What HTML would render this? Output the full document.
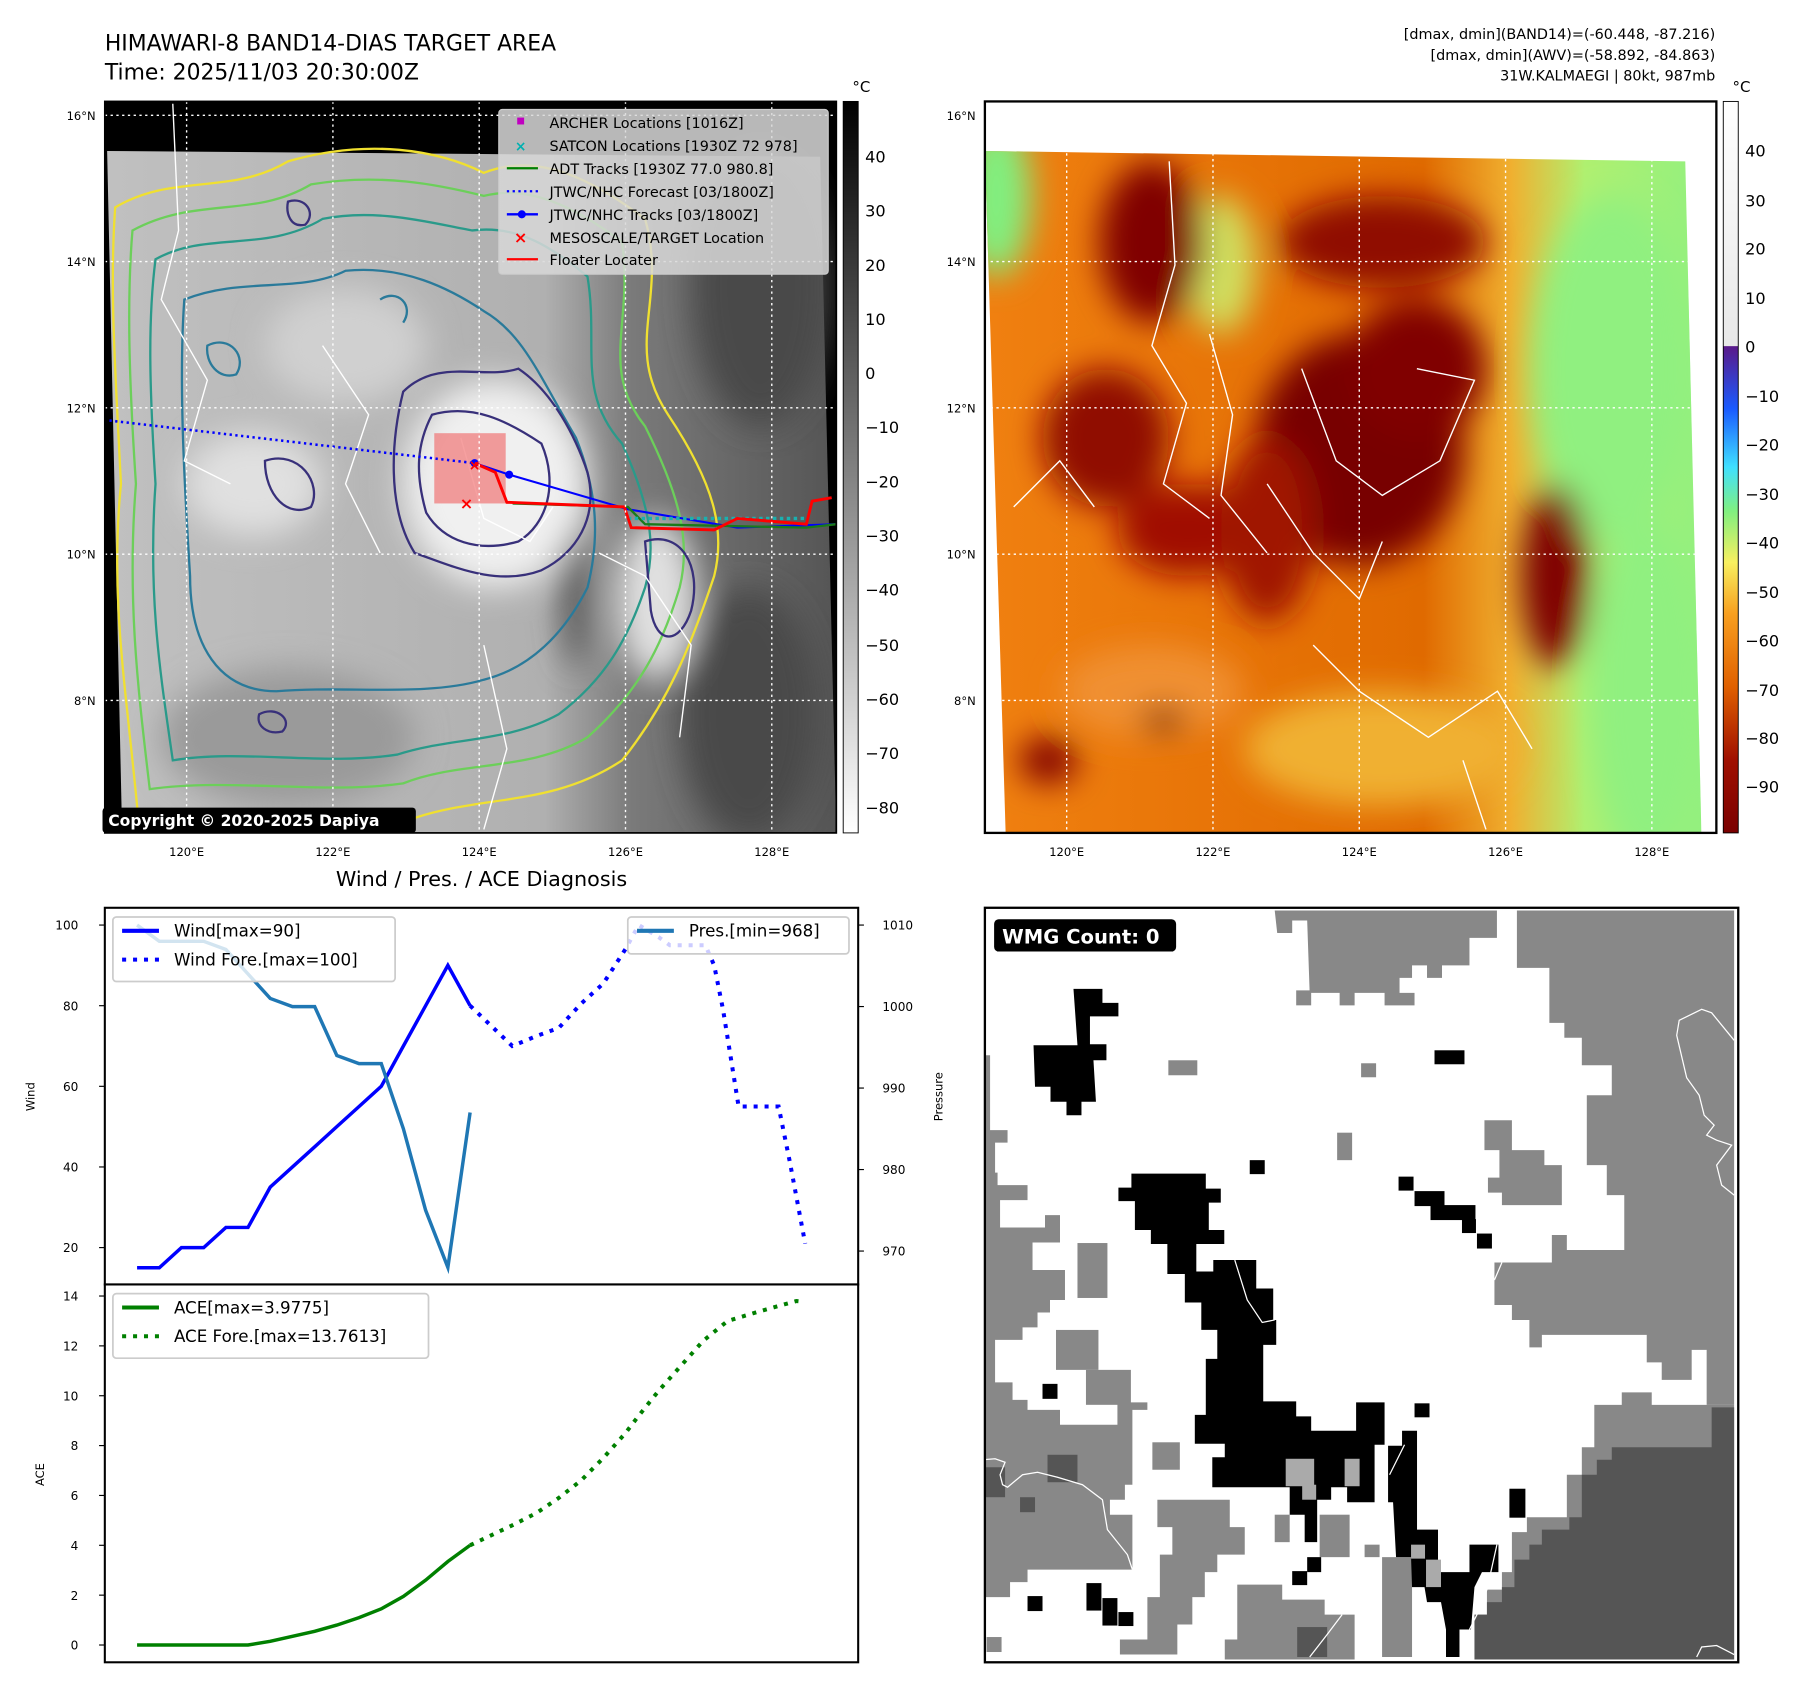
<!DOCTYPE html>
<html><head><meta charset="utf-8"><style>
html,body{margin:0;padding:0;background:#fff}
svg{display:block;font-family:"DejaVu Sans","Liberation Sans",sans-serif}
</style></head><body>
<svg id="root" width="1797" height="1690" viewBox="0 0 1560 1467" xmlns="http://www.w3.org/2000/svg">
<defs>
<filter id="blur8" x="-50%" y="-50%" width="200%" height="200%"><feGaussianBlur stdDeviation="8"/></filter>
<filter id="blur15" x="-50%" y="-50%" width="200%" height="200%"><feGaussianBlur stdDeviation="14"/></filter>
<filter id="blur25" x="-50%" y="-50%" width="200%" height="200%"><feGaussianBlur stdDeviation="22"/></filter>
<linearGradient id="grayCb" x1="0" y1="0" x2="0" y2="1"><stop offset="0" stop-color="#000"/><stop offset="1" stop-color="#fff"/></linearGradient>
<linearGradient id="colCb" x1="0" y1="0" x2="0" y2="1">
<stop offset="0" stop-color="#fff"/><stop offset="0.334" stop-color="#e8e8e8"/>
<stop offset="0.335" stop-color="#5a1a8a"/><stop offset="0.42" stop-color="#1a5aff"/><stop offset="0.5" stop-color="#40e0ff"/>
<stop offset="0.56" stop-color="#80f080"/><stop offset="0.63" stop-color="#f8f060"/><stop offset="0.7" stop-color="#f8a020"/>
<stop offset="0.8" stop-color="#e06000"/><stop offset="0.9" stop-color="#a01000"/><stop offset="1" stop-color="#7a0000"/></linearGradient>
<linearGradient id="leftImg" x1="0" y1="0" x2="1" y2="0"><stop offset="0" stop-color="#c0c0c0"/><stop offset="0.6" stop-color="#b0b0b0"/><stop offset="0.72" stop-color="#7a7a7a"/><stop offset="1" stop-color="#555"/></linearGradient>
<linearGradient id="rightImg" x1="0" y1="0" x2="1" y2="0"><stop offset="0" stop-color="#f08010"/><stop offset="0.6" stop-color="#e06a00"/><stop offset="0.72" stop-color="#f0b030"/><stop offset="0.82" stop-color="#b0f070"/><stop offset="1" stop-color="#90f080"/></linearGradient>
<clipPath id="clipL"><rect x="91" y="88" width="635" height="635"/></clipPath>
<clipPath id="clipR"><rect x="855" y="88" width="635" height="635"/></clipPath>
<clipPath id="clipW"><rect x="855" y="788" width="654" height="655"/></clipPath>
</defs>

<text x="91" y="44" font-size="19">HIMAWARI-8 BAND14-DIAS TARGET AREA</text>
<text x="91" y="69" font-size="19">Time: 2025/11/03 20:30:00Z</text>
<g font-size="12.5" text-anchor="end">
<text x="1489" y="34">[dmax, dmin](BAND14)=(-60.448, -87.216)</text>
<text x="1489" y="52">[dmax, dmin](AWV)=(-58.892, -84.863)</text>
<text x="1489" y="70">31W.KALMAEGI | 80kt, 987mb</text>
</g>

<!-- LEFT MAP -->
<g>
<rect x="91" y="88" width="635" height="635" fill="#000"/>
<g clip-path="url(#clipL)">
<polygon points="93,131 712,136 726,723 106,723" fill="url(#leftImg)"/>
<g filter="url(#blur15)">
<ellipse cx="430" cy="420" rx="80" ry="90" fill="#f0f0f0"/>
<ellipse cx="220" cy="420" rx="60" ry="45" fill="#e0e0e0"/>
<ellipse cx="570" cy="520" rx="35" ry="70" fill="#e0e0e0"/>
<ellipse cx="300" cy="300" rx="70" ry="50" fill="#d0d0d0"/>
<ellipse cx="660" cy="250" rx="60" ry="120" fill="#4a4a4a"/>
<ellipse cx="650" cy="620" rx="60" ry="110" fill="#4a4a4a"/>
<ellipse cx="250" cy="640" rx="110" ry="60" fill="#9a9a9a"/>
<ellipse cx="500" cy="520" rx="12" ry="60" fill="#555"/>
</g>
<g fill="none" stroke-width="2">
<path d="M100,180 C150,150 200,170 250,140 C320,120 380,130 420,150 C470,130 520,160 560,190 C580,260 540,300 580,360 C620,420 630,460 620,500 C600,560 580,610 540,660 C480,700 420,690 360,710 C280,715 200,700 120,710 C110,600 95,520 105,420 C100,320 95,250 100,180Z" stroke="#f0e030"/>
<path d="M115,200 C170,170 220,190 270,160 C330,150 380,160 420,170 C460,160 500,180 540,210 C550,280 520,320 560,370 C590,430 600,470 590,510 C575,560 555,600 510,640 C460,670 400,660 350,680 C280,690 200,675 130,685 C120,600 110,520 118,420 C112,330 110,260 115,200Z" stroke="#6ccf5a"/>
<path d="M135,225 C180,200 230,220 280,190 C330,180 380,195 410,200 C450,195 480,215 510,240 C520,300 500,340 540,385 C565,440 570,475 560,510 C545,555 525,590 485,620 C440,645 390,640 345,655 C280,665 210,650 150,660 C140,590 128,520 135,420 C130,340 128,280 135,225Z" stroke="#2a9a8a"/>
<path d="M160,260 C210,240 260,255 300,235 C350,230 390,250 420,270 C455,290 470,330 500,380 C520,430 520,470 510,510 C490,550 460,580 420,590 C370,605 300,595 240,600 C190,600 165,560 165,500 C160,420 155,330 160,260Z" stroke="#2a7a9a"/>
<path d="M350,340 C380,310 420,330 450,320 C480,340 500,380 510,410 C520,450 500,480 470,495 C430,510 390,490 360,480 C335,440 340,380 350,340Z" stroke="#38307a"/>
<path d="M375,360 C410,350 440,365 470,385 C485,420 475,455 450,470 C415,480 385,470 370,445 C360,410 362,385 375,360Z" stroke="#38307a"/>
<path d="M230,400 C260,390 280,420 270,440 C250,450 230,430 230,400Z M250,175 C265,170 275,185 265,195 C252,198 248,185 250,175Z" stroke="#38307a"/>
<path d="M560,470 C590,460 610,490 600,530 C590,560 570,560 565,530Z M225,620 C240,612 255,625 245,635 C232,638 222,630 225,620Z" stroke="#38307a"/>
<path d="M180,300 C200,290 215,310 205,325 C190,330 178,315 180,300Z M330,260 C345,250 360,265 350,280" stroke="#2a7a9a"/>
</g>
<g fill="none" stroke="#fff" stroke-width="1.2">
<path d="M150,90 L155,200 L140,260 L180,330 L160,400 L200,420 M280,300 L320,360 L300,420 L330,480 M400,380 L420,450 L460,470 L480,440 M520,480 L560,500 L600,560 L590,640 M420,560 L440,650 L420,720"/>
</g>
<rect x="377" y="376" width="62" height="61" fill="#f06060" opacity="0.6"/>
<path d="M95,365 L412,402" stroke="#0000ff" stroke-width="2.2" stroke-dasharray="2,3" fill="none"/>
<path d="M412,402 L442,412 L545,442 L640,458 L726,455" stroke="#0000ff" stroke-width="1.8" fill="none"/>
<circle cx="442" cy="412" r="3.5" fill="#0000ff"/><circle cx="412" cy="402" r="3.5" fill="#0000ff"/>
<path d="M445,437 L545,440 L560,455 L700,458 L726,455" stroke="#1a7a1a" stroke-width="2" fill="none"/>
<path d="M545,450 L700,450" stroke="#1ab0b0" stroke-width="3" stroke-dasharray="3,3" fill="none"/>
<path d="M412,402 L430,410 L440,436 L542,440 L548,458 L620,460 L640,450 L700,455 L705,435 L722,432" stroke="#ff0000" stroke-width="2.5" fill="none"/>
<text x="405" y="442" font-size="14" fill="#ff0000" font-weight="bold" text-anchor="middle">×</text>
<text x="412" y="408" font-size="12" fill="#ff0000" font-weight="bold" text-anchor="middle">×</text>
</g>
<g stroke="#fff" stroke-width="1.2" stroke-dasharray="2,3">
<line x1="91" y1="100" x2="726" y2="100"/><line x1="91" y1="227" x2="726" y2="227"/><line x1="91" y1="354" x2="726" y2="354"/><line x1="91" y1="481" x2="726" y2="481"/><line x1="91" y1="608" x2="726" y2="608"/>
<line x1="162" y1="88" x2="162" y2="723"/><line x1="289" y1="88" x2="289" y2="723"/><line x1="416" y1="88" x2="416" y2="723"/><line x1="543" y1="88" x2="543" y2="723"/><line x1="670" y1="88" x2="670" y2="723"/>
</g>
<rect x="91" y="88" width="635" height="635" fill="none" stroke="#000" stroke-width="1.5"/>
<g>
<rect x="433" y="95" width="286" height="143" rx="3" fill="#d8d8d8" fill-opacity="0.85" stroke="#ccc"/>
<g font-size="12.5">
<rect x="449" y="102" width="6" height="6" fill="#c000c0"/><text x="477" y="111">ARCHER Locations [1016Z]</text>
<text x="452" y="131" fill="#00b0b0" font-size="12" text-anchor="middle" font-weight="bold">×</text><text x="477" y="131">SATCON Locations [1930Z 72 978]</text>
<line x1="440" y1="146" x2="467" y2="146" stroke="#008000" stroke-width="2"/><text x="477" y="151">ADT Tracks [1930Z 77.0 980.8]</text>
<line x1="440" y1="166" x2="467" y2="166" stroke="#0000ff" stroke-width="2" stroke-dasharray="2,3"/><text x="477" y="171">JTWC/NHC Forecast [03/1800Z]</text>
<line x1="440" y1="186" x2="467" y2="186" stroke="#0000ff" stroke-width="2"/><circle cx="453" cy="186" r="3.5" fill="#0000ff"/><text x="477" y="191">JTWC/NHC Tracks [03/1800Z]</text>
<text x="452" y="211" fill="#ff0000" font-size="14" text-anchor="middle" font-weight="bold">×</text><text x="477" y="211">MESOSCALE/TARGET Location</text>
<line x1="440" y1="225" x2="467" y2="225" stroke="#ff0000" stroke-width="2"/><text x="477" y="230">Floater Locater</text>
</g></g>
<rect x="89" y="701" width="272" height="22" rx="3" fill="#000"/>
<text x="94" y="717" font-size="13.5" fill="#fff" font-weight="bold">Copyright © 2020-2025 Dapiya</text>
</g>
<g font-size="10">
<text x="83" y="104" text-anchor="end">16°N</text><text x="83" y="231" text-anchor="end">14°N</text><text x="83" y="358" text-anchor="end">12°N</text><text x="83" y="485" text-anchor="end">10°N</text><text x="83" y="612" text-anchor="end">8°N</text>
<g text-anchor="middle"><text x="162" y="743">120°E</text><text x="289" y="743">122°E</text><text x="416" y="743">124°E</text><text x="543" y="743">126°E</text><text x="670" y="743">128°E</text></g>
</g>
<g>
<rect x="732" y="88" width="13" height="635" fill="url(#grayCb)" stroke="#000" stroke-width="0.8"/>
<text x="740" y="80" font-size="13">°C</text>
<g font-size="14">
<text x="751" y="141">40</text><text x="751" y="188">30</text><text x="751" y="235">20</text><text x="751" y="282">10</text><text x="751" y="329">0</text><text x="751" y="376">−10</text><text x="751" y="423">−20</text><text x="751" y="470">−30</text><text x="751" y="517">−40</text><text x="751" y="565">−50</text><text x="751" y="612">−60</text><text x="751" y="659">−70</text><text x="751" y="706">−80</text>
</g></g>

<!-- RIGHT MAP -->
<g>
<rect x="855" y="88" width="635" height="635" fill="#fff"/>
<g clip-path="url(#clipR)">
<clipPath id="quadR"><polygon points="855,131 1463,140 1477,723 873,723"/></clipPath>
<g clip-path="url(#quadR)">
<rect x="855" y="131" width="635" height="600" fill="url(#rightImg)"/>
<g filter="url(#blur15)">
<ellipse cx="865" cy="170" rx="30" ry="70" fill="#80f080"/>
<ellipse cx="1060" cy="230" rx="30" ry="60" fill="#d0e060"/>
<ellipse cx="1400" cy="320" rx="70" ry="150" fill="#90f080"/>
<ellipse cx="1430" cy="600" rx="50" ry="150" fill="#90f080"/>
<ellipse cx="1200" cy="650" rx="120" ry="50" fill="#f0b030"/>
<ellipse cx="1000" cy="210" rx="45" ry="70" fill="#800000"/>
<ellipse cx="1200" cy="210" rx="90" ry="40" fill="#900800"/>
<ellipse cx="1180" cy="390" rx="90" ry="100" fill="#780000"/>
<ellipse cx="1230" cy="320" rx="60" ry="60" fill="#800000"/>
<ellipse cx="960" cy="380" rx="55" ry="60" fill="#900800"/>
<ellipse cx="1030" cy="460" rx="60" ry="40" fill="#a01000"/>
<ellipse cx="1350" cy="500" rx="30" ry="80" fill="#800000"/>
<ellipse cx="1100" cy="460" rx="40" ry="80" fill="#a01800"/>
<ellipse cx="1000" cy="600" rx="80" ry="40" fill="#f09030"/>
<ellipse cx="1010" cy="625" rx="20" ry="10" fill="#700000"/>
<ellipse cx="910" cy="660" rx="25" ry="20" fill="#800000"/>
</g>
</g></g>
<g fill="none" stroke="#fff" stroke-width="1.2">
<path d="M1015,140 L1020,230 L1000,300 L1030,350 L1010,420 L1050,450 M1050,290 L1070,360 L1060,430 L1100,480 M1130,320 L1160,400 L1200,430 L1250,400 L1280,330 L1230,320 M1100,420 L1140,480 L1180,520 L1200,470 M1140,560 L1180,600 L1240,640 L1300,600 L1330,650 M880,440 L920,400 L950,440 M1270,660 L1290,720"/>
</g>
<g stroke="#fff" stroke-width="1.2" stroke-dasharray="2,3">
<line x1="855" y1="100" x2="1490" y2="100"/><line x1="855" y1="227" x2="1490" y2="227"/><line x1="855" y1="354" x2="1490" y2="354"/><line x1="855" y1="481" x2="1490" y2="481"/><line x1="855" y1="608" x2="1490" y2="608"/>
<line x1="926" y1="88" x2="926" y2="723"/><line x1="1053" y1="88" x2="1053" y2="723"/><line x1="1180" y1="88" x2="1180" y2="723"/><line x1="1307" y1="88" x2="1307" y2="723"/><line x1="1434" y1="88" x2="1434" y2="723"/>
</g>
<rect x="855" y="88" width="635" height="635" fill="none" stroke="#000" stroke-width="2"/>
</g>
<g font-size="10">
<text x="847" y="104" text-anchor="end">16°N</text><text x="847" y="231" text-anchor="end">14°N</text><text x="847" y="358" text-anchor="end">12°N</text><text x="847" y="485" text-anchor="end">10°N</text><text x="847" y="612" text-anchor="end">8°N</text>
<g text-anchor="middle"><text x="926" y="743">120°E</text><text x="1053" y="743">122°E</text><text x="1180" y="743">124°E</text><text x="1307" y="743">126°E</text><text x="1434" y="743">128°E</text></g>
</g>
<g>
<rect x="1496" y="88" width="13" height="635" fill="url(#colCb)" stroke="#000" stroke-width="0.8"/>
<text x="1504" y="80" font-size="13">°C</text>
<g font-size="14">
<text x="1515" y="136">40</text><text x="1515" y="179">30</text><text x="1515" y="221">20</text><text x="1515" y="264">10</text><text x="1515" y="306">0</text><text x="1515" y="349">−10</text><text x="1515" y="391">−20</text><text x="1515" y="434">−30</text><text x="1515" y="476">−40</text><text x="1515" y="519">−50</text><text x="1515" y="561">−60</text><text x="1515" y="604">−70</text><text x="1515" y="646">−80</text><text x="1515" y="688">−90</text>
</g></g>

<text x="418" y="769" font-size="18" text-anchor="middle">Wind / Pres. / ACE Diagnosis</text>
<g id="chart"></g>

<!-- WMG PANEL -->
<g>
<rect x="855" y="788" width="654" height="655" fill="#fff"/>
<g clip-path="url(#clipW)"><g transform="translate(853,786) scale(0.4335)">
<g fill="#888">
<polygon points="1070,10 1505,10 1505,1000 1450,1000 1450,890 1420,890 1420,950 1360,950 1360,915 1330,915 1330,860 1120,860 1120,885 1095,885 1095,830 1060,830 1060,800 1025,800 1025,715 1140,715 1140,660 1170,660 1170,690 1285,690 1285,580 1250,580 1250,520 1210,520 1210,380 1260,380 1260,320 1200,320 1200,265 1165,265 1165,235 1135,235 1135,125 1070,125"/>
<polygon points="585,10 1030,10 1030,65 975,65 975,120 920,120 920,145 890,145 890,120 860,120 860,145 835,145 835,175 865,175 865,200 805,200 805,175 745,175 745,200 715,200 715,175 655,175 650,30 620,30 620,55 590,55"/>
<polygon points="1005,430 1060,430 1060,490 1125,490 1125,520 1160,520 1160,600 1040,600 1040,575 1012,575 1012,545 1035,545 1035,490 1005,490"/>
<polygon points="1225,1000 1280,1000 1280,975 1340,975 1340,1000 1505,1000 1505,1510 990,1510 990,1420 1010,1420 1010,1370 1040,1370 1040,1335 1060,1335 1060,1255 1090,1255 1090,1225 1170,1225 1170,1140 1200,1140 1200,1085 1225,1085"/>
<polygon points="0,300 15,300 15,450 50,450 50,475 25,475 25,535 30,535 30,560 90,560 90,590 35,590 35,645 125,645 125,620 155,620 155,675 100,675 100,730 165,730 165,790 135,790 135,815 110,815 110,845 80,845 80,870 25,870 25,955 60,955 60,990 90,990 90,1010 155,1010 155,1040 270,1040 270,995 330,995 330,1010 300,1010 300,1160 285,1160 285,1190 255,1190 255,1220 300,1220 300,1330 90,1330 90,1355 55,1355 55,1385 0,1385"/>
<polygon points="350,1190 495,1190 495,1245 525,1245 525,1300 470,1300 470,1335 445,1335 445,1385 420,1385 420,1440 390,1440 390,1500 275,1500 275,1470 330,1470 330,1385 355,1385 355,1300 380,1300 380,1245 350,1245"/>
<polygon points="510,1360 600,1360 600,1390 685,1390 685,1420 745,1420 745,1510 485,1510 485,1470 510,1470"/>
<rect x="372" y="310" width="58" height="30"/><rect x="758" y="316" width="30" height="28"/><rect x="710" y="455" width="30" height="55"/><rect x="190" y="676" width="60" height="110"/><rect x="147" y="850" width="85" height="80"/><rect x="207" y="930" width="90" height="70"/><rect x="340" y="1075" width="55" height="55"/><rect x="585" y="1220" width="30" height="55"/><rect x="675" y="1220" width="60" height="85"/><rect x="765" y="1280" width="30" height="25"/><rect x="800" y="1305" width="60" height="200"/><rect x="628" y="170" width="30" height="30"/><rect x="8" y="1465" width="30" height="30"/>
</g>
<polygon fill="#555" points="1290,1085 1460,1085 1460,1005 1505,1005 1505,1510 985,1510 985,1420 1010,1420 1010,1395 1040,1395 1040,1365 1065,1365 1065,1310 1095,1310 1095,1280 1120,1280 1120,1250 1175,1250 1175,1225 1200,1225 1200,1140 1230,1140 1230,1110 1260,1110 1260,1085"/>
<g fill="#555"><rect x="0" y="1125" width="45" height="60"/><rect x="130" y="1100" width="60" height="55"/><rect x="75" y="1185" width="30" height="30"/><rect x="630" y="1445" width="60" height="60"/></g>
<g fill="#000">
<polygon points="182,167 240,167 240,195 272,195 272,222 215,222 215,278 248,278 248,310 222,310 227,393 198,393 198,420 168,420 168,393 136,393 136,363 105,363 102,280 190,280"/>
<polygon points="298,537 447,537 447,567 477,567 477,595 453,595 453,650 484,650 484,678 428,678 428,733 462,733 462,710 548,710 548,767 582,767 582,830 588,830 588,880 562,880 562,993 628,993 628,1023 658,1023 658,1052 748,1052 748,995 805,995 805,1080 785,1080 785,1195 730,1195 730,1165 698,1165 698,1190 670,1190 670,1275 645,1275 645,1220 615,1220 615,1165 460,1165 460,1105 485,1105 485,1078 425,1078 425,1020 447,1020 447,908 470,908 470,850 438,850 438,795 405,795 405,738 370,738 370,678 337,678 337,650 305,650 305,592 272,592 272,565 298,565"/>
<polygon points="840,1052 870,1052 870,1250 912,1250 912,1335 975,1335 975,1280 1033,1280 1033,1335 1000,1335 985,1365 978,1450 955,1450 955,1505 928,1505 928,1450 918,1395 890,1395 885,1365 860,1365 858,1305 828,1305 822,1195 812,1195 812,1082 840,1082"/>
<rect x="535" y="510" width="30" height="28"/><rect x="905" y="290" width="60" height="28"/><rect x="833" y="543" width="30" height="28"/><rect x="865" y="572" width="60" height="30"/><rect x="897" y="600" width="90" height="30"/><rect x="960" y="628" width="28" height="28"/><rect x="990" y="657" width="30" height="30"/><rect x="865" y="997" width="30" height="28"/><rect x="1055" y="1168" width="32" height="58"/><rect x="120" y="958" width="30" height="30"/><rect x="90" y="1383" width="30" height="30"/><rect x="208" y="1357" width="30" height="55"/><rect x="240" y="1387" width="30" height="55"/><rect x="272" y="1415" width="30" height="28"/><rect x="620" y="1333" width="30" height="28"/><rect x="650" y="1305" width="28" height="30"/>
</g>
<g fill="#aaa"><rect x="607" y="1108" width="57" height="55"/><rect x="640" y="1160" width="28" height="30"/><rect x="725" y="1108" width="30" height="55"/><rect x="858" y="1280" width="28" height="28"/><rect x="888" y="1310" width="30" height="55"/></g>
<g fill="none" stroke="#fff" stroke-width="2.5">
<path d="M1505,270 L1460,215 L1440,208 L1395,230 L1390,260 L1410,345 L1435,380 L1445,420 L1465,440 L1450,460 L1470,470 L1500,480 L1470,520 L1480,560 L1505,580"/>
<path d="M0,1110 L25,1108 L45,1115 L35,1140 L40,1160 L50,1165 L80,1140 L110,1135 L150,1145 L200,1160 L240,1190 L250,1250 L290,1300 L300,1330"/>
<path d="M505,710 L530,790 L560,835 L585,830 M845,1080 L815,1140 M1030,1280 L1010,1370 L990,1420 L975,1450 M720,1420 L690,1460 L655,1505 M1040,715 L1025,750 M1430,1505 L1440,1485 L1470,1482 L1505,1500"/>
</g>
</g></g>
<rect x="855" y="788" width="654" height="655" fill="none" stroke="#000" stroke-width="2"/>
<rect x="863" y="798" width="158" height="28" rx="4" fill="#000"/>
<text x="870" y="819" font-size="17" font-weight="bold" fill="#fff">WMG Count: 0</text>
</g>
</svg>
<script>
// ---- chart data ----
const obsIdx = [0,1,2,3,4,5,6,7,8,9,10,11,12,13,14,15];
const windObs = [15,15,20,20,25,25,35,40,45,50,55,60,70,80,90,80];
const presObs = [1010,1008,1008,1008,1007,1004,1001,1000,1000,994,993,993,985,975,968,987];
const foreIdx = [15,16.9,18,19,20,21,22,22.6,23.5,24,25,25.6,26,26.4,27.1,28.9,29.4,30.1];
const windFore = [80,70,72.5,74.5,80.5,85.5,94,100,97,95,95,95,90,79,55,55,41.5,21];
const aceObs = [0,0,0,0,0,0,0.15,0.35,0.55,0.8,1.1,1.45,1.95,2.6,3.35,4.0];
const aceForeIdx = [15,16.9,18,19,20,21,22,22.6,23.5,24.5,25.5,26.6,28.1,29.7,30.1];
const aceFore = [4.0,4.8,5.3,5.9,6.6,7.5,8.5,9.2,10.2,11.2,12.2,13.0,13.4,13.8,13.76];
const windTicks = [20,40,60,80,100];
const presTicks = [970,980,990,1000,1010];
const aceTicks = [0,2,4,6,8,10,12,14];

const NS='http://www.w3.org/2000/svg';
const chart=document.getElementById('chart');
function xS(i){return 119+i*19.27;}
function yW(v){return 1083-(v-20)*3.5;}
function yP(v){return 1086-(v-970)*7.075;}
function yA(v){return 1428-v*21.64;}
function mk(tag,attrs,parent){const e=document.createElementNS(NS,tag);for(const k in attrs)e.setAttribute(k,attrs[k]);(parent||chart).appendChild(e);return e;}
function txt(x,y,s,size,anchor,parent){const t=mk('text',{x:x,y:y,'font-size':size,'text-anchor':anchor||'start'},parent);t.textContent=s;return t;}
function pathFrom(xs,ys,fx,fy){return xs.map((x,i)=>(i?'L':'M')+fx(x).toFixed(1)+','+fy(ys[i]).toFixed(1)).join(' ');}

let f1=mk('rect',{x:91,y:788,width:654,height:327,fill:'none',stroke:'#000','stroke-width':1.8});


let f2=mk('rect',{x:91,y:1115,width:654,height:328,fill:'none',stroke:'#000','stroke-width':1.8});



windTicks.forEach(v=>{mk('line',{x1:86,x2:91,y1:yW(v),y2:yW(v),stroke:'#000'});const t=txt(68,yW(v)+4,String(v),10.5,'end');});
presTicks.forEach(v=>{mk('line',{x1:745,x2:750,y1:yP(v),y2:yP(v),stroke:'#000'});const t=txt(766,yP(v)+4,String(v),10.5,'start');});
aceTicks.forEach(v=>{mk('line',{x1:86,x2:91,y1:yA(v),y2:yA(v),stroke:'#000'});const t=txt(68,yA(v)+4,String(v),10.5,'end');});
let yl=txt(30,952,'Wind',10,'middle');yl.setAttribute('transform','rotate(-90 30 952)');


let pl=txt(818,952,'Pressure',10,'middle');pl.setAttribute('transform','rotate(-90 818 952)');


let al=txt(38,1280,'ACE',10,'middle');al.setAttribute('transform','rotate(-90 38 1280)');



let wl=mk('path',{d:pathFrom(obsIdx,windObs,xS,yW),fill:'none',stroke:'#0000ff','stroke-width':3});


let wf=mk('path',{d:pathFrom(foreIdx,windFore,xS,yW),fill:'none',stroke:'#0000ff','stroke-width':3.5,'stroke-dasharray':'3.5,6'});


let pr=mk('path',{d:pathFrom(obsIdx,presObs,xS,yP),fill:'none',stroke:'#1f77b4','stroke-width':3});


let ao=mk('path',{d:pathFrom(obsIdx,aceObs,xS,yA),fill:'none',stroke:'#008000','stroke-width':3});


let af=mk('path',{d:pathFrom(aceForeIdx,aceFore,xS,yA),fill:'none',stroke:'#008000','stroke-width':3.5,'stroke-dasharray':'3.5,6'});



function legend(x,y,w,h,items,name){const g=mk('g',{});
 mk('rect',{x:x,y:y,width:w,height:h,rx:3,fill:'#fff','fill-opacity':0.8,stroke:'#ccc','stroke-width':1.5},g);
 items.forEach((it,i)=>{const ly=y+15+i*25;mk('line',{x1:x+8,x2:x+40,y1:ly-3,y2:ly-3,stroke:it.c,'stroke-width':3.5,'stroke-dasharray':it.d||'none'},g);txt(x+53,ly+2,it.t,14.5,'start',g);});}
legend(98,796,245,56,[{c:'#0000ff',t:'Wind[max=90]'},{c:'#0000ff',t:'Wind Fore.[max=100]',d:'3.5,6'}],'wind-legend');
legend(545,796,192,32,[{c:'#1f77b4',t:'Pres.[min=968]'}],'pressure-legend');
legend(98,1123,274,56,[{c:'#008000',t:'ACE[max=3.9775]'},{c:'#008000',t:'ACE Fore.[max=13.7613]',d:'3.5,6'}],'ace-legend');
</script>
</body></html>
